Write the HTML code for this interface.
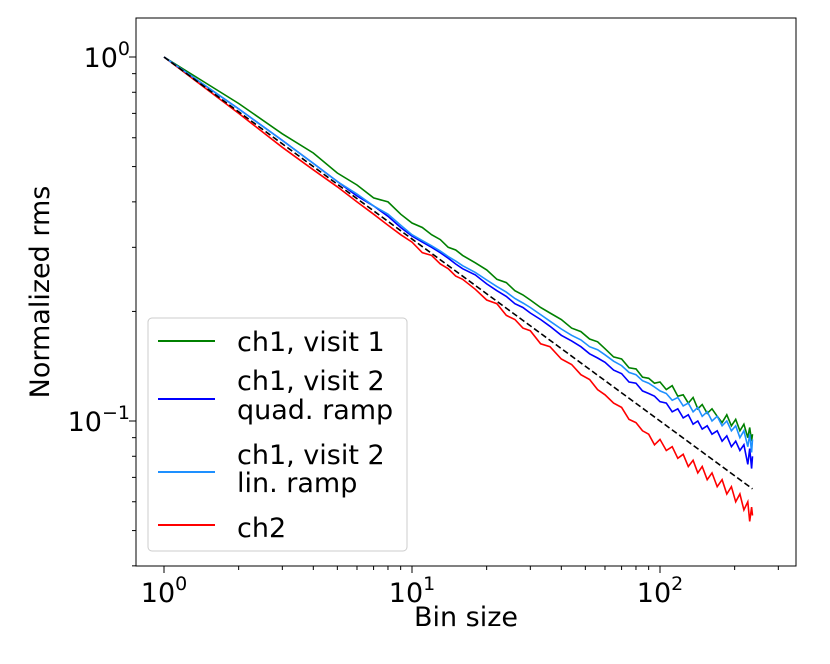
<!DOCTYPE html>
<html><head><meta charset="utf-8"><style>
body{margin:0;background:#fff}
svg{display:block;font-family:"DejaVu Sans","Liberation Sans",sans-serif}
</style></head><body>
<svg id="chart" width="830" height="664">
<rect width="830" height="664" fill="#fff"/>
<g id="marks"></g>
<rect x="136" y="18" width="660" height="548" fill="none" stroke="#000" stroke-width="1"/>
<g id="axes"></g>
<text x="466" y="626" font-size="27" text-anchor="middle">Bin size</text>
<text transform="translate(49,292) rotate(-90)" font-size="27" text-anchor="middle">Normalized rms</text>
<g>
<rect x="148" y="318" width="259" height="233" rx="4" fill="#fff" fill-opacity="0.8" stroke="#ccc" stroke-width="1"/>
<g><line x1="158" x2="215" y1="341" y2="341" stroke="green" stroke-width="2"/><text x="237" y="351" font-size="27">ch1, visit 1</text></g>
<g><line x1="158" x2="215" y1="399" y2="399" stroke="blue" stroke-width="2"/><text x="237" y="390" font-size="27">ch1, visit 2</text><text x="237" y="419" font-size="27">quad. ramp</text></g>
<g><line x1="158" x2="215" y1="472" y2="472" stroke="#1e90ff" stroke-width="2"/><text x="237" y="464" font-size="27">ch1, visit 2</text><text x="237" y="492" font-size="27">lin. ramp</text></g>
<g><line x1="158" x2="215" y1="525" y2="525" stroke="red" stroke-width="2"/><text x="237" y="537" font-size="27">ch2</text></g>
</g>
</svg>
<script>
const bins=[1,2,3,4,5,6,7,8,9,10,11,12,13,14,15,16,18,20,22,24,26,28,30,33,36,40,44,48,52,56,60,65,70,75,80,85,90,95,100,106,112,118,124,130,136,142,148,155,162,170,178,186,194,202,210,218,226,230,234,236];
const greenVals=[1,.745,.615,.545,.48,.445,.41,.40,.37,.35,.34,.325,.315,.30,.295,.285,.272,.26,.245,.24,.228,.222,.215,.205,.198,.19,.18,.176,.168,.165,.158,.150,.148,.140,.139,.132,.131,.127,.128,.122,.125,.117,.118,.112,.116,.108,.111,.105,.108,.103,.099,.104,.097,.101,.094,.098,.090,.096,.088,.092];
const blueVals=[1,.72,.59,.51,.455,.415,.39,.365,.34,.322,.31,.30,.29,.28,.27,.262,.252,.238,.228,.22,.21,.205,.198,.19,.182,.172,.166,.16,.153,.149,.145,.138,.135,.128,.127,.121,.119,.117,.113,.112,.106,.108,.102,.104,.098,.1,.095,.097,.092,.094,.088,.091,.085,.088,.083,.086,.076,.084,.074,.08];
const lightVals=[1,.72,.59,.51,.455,.42,.39,.37,.345,.325,.313,.303,.293,.283,.275,.267,.256,.244,.234,.226,.217,.211,.205,.196,.188,.179,.172,.167,.160,.157,.152,.146,.142,.136,.134,.129,.127,.124,.121,.119,.114,.116,.110,.112,.106,.109,.103,.106,.100,.103,.097,.100,.094,.097,.090,.094,.085,.092,.082,.089];
const redVals=[1,.70,.565,.49,.44,.40,.37,.345,.325,.31,.29,.285,.27,.262,.25,.245,.23,.215,.21,.195,.19,.18,.177,.163,.16,.148,.143,.134,.130,.122,.118,.112,.109,.101,.099,.094,.092,.086,.089,.083,.085,.079,.081,.075,.078,.072,.075,.069,.072,.066,.069,.063,.066,.060,.063,.057,.060,.053,.058,.055];
const xTicks=[0,1,2];
const yTicks=[0,-1];
const NS="http://www.w3.org/2000/svg";
const X=v=>164+Math.log10(v)*248;
const Y=v=>57-Math.log10(v)*364;
const marks=document.getElementById('marks'),axes=document.getElementById('axes');
function el(t,a,p){const e=document.createElementNS(NS,t);for(const k in a)e.setAttribute(k,a[k]);p.appendChild(e);return e;}
function series(vals,color,name,dash){
  const d=vals.map((v,i)=>(i?'L':'M')+X(bins[i]).toFixed(1)+','+Y(v).toFixed(1)).join('');
  const p=el('path',{d:d,fill:'none',stroke:color,'stroke-width':1.6},marks);
  if(dash)p.setAttribute('stroke-dasharray',dash);
  
  
}
series(greenVals,'green','series-ch1-visit1');
series(redVals,'red','series-ch2');
series(blueVals,'blue','series-ch1-visit2-quad');
series(lightVals,'#1e90ff','series-ch1-visit2-lin');
const ref=el('line',{x1:X(1),y1:Y(1),x2:X(236),y2:Y(1/Math.sqrt(236)),stroke:'#000','stroke-width':1.6,'stroke-dasharray':'6,3'},marks);


for(let e=0;e<=2;e++)for(let m=1;m<10;m++){const v=m*Math.pow(10,e);const x=X(v);if(x<136||x>796)continue;
  el('line',{x1:x,x2:x,y1:566,y2:566+(m==1?7:4),stroke:'#000','stroke-width':1},axes);}
xTicks.forEach(e=>{const t=el('text',{x:X(Math.pow(10,e)),y:602,'font-size':27,'text-anchor':'middle'},axes);
  
  t.innerHTML='10<tspan dy="-12" font-size="19">'+e+'</tspan>';});
for(let e=-2;e<=0;e++)for(let m=1;m<10;m++){const v=m*Math.pow(10,e);const y=Y(v);if(y<18||y>566)continue;
  el('line',{x1:136,x2:136-(m==1?7:4),y1:y,y2:y,stroke:'#000','stroke-width':1},axes);}
yTicks.forEach(e=>{const t=el('text',{x:130,y:Y(Math.pow(10,e))+10,'font-size':27,'text-anchor':'end'},axes);
  
  t.innerHTML='10<tspan dy="-12" font-size="19">'+(e==0?'0':'\u22121')+'</tspan>';});
</script>
</body></html>
